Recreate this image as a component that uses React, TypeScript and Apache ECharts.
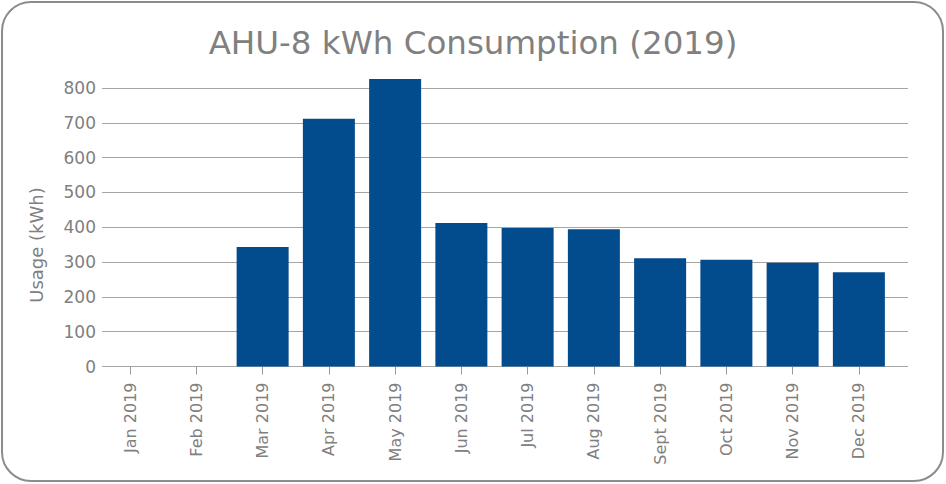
import React, { useEffect, useRef } from "react";
import * as echarts from "echarts";

const months = [
  "Jan 2019", "Feb 2019", "Mar 2019", "Apr 2019", "May 2019", "Jun 2019",
  "Jul 2019", "Aug 2019", "Sept 2019", "Oct 2019", "Nov 2019", "Dec 2019",
];
const usageKwh = [0, 0, 343, 712, 826, 412, 398, 394, 311, 307, 298, 271];
const yTicks = { min: 0, max: 800, interval: 100 };

const TEXT = "#808080";
const GRID_LINE = "#a6a6a6";
const BAR = "#024b8c";
const FONT = "'DejaVu Sans', sans-serif";

export default function App() {
  const ref = useRef<HTMLDivElement>(null);

  useEffect(() => {
    if (!ref.current) return;
    const chart = echarts.init(ref.current, undefined, { renderer: "svg" });
    chart.setOption({
      animation: false,
      title: {
        text: "AHU-8 kWh Consumption (2019)",
        left: "center",
        top: 21,
        textStyle: { color: TEXT, fontFamily: FONT, fontWeight: "normal", fontSize: 32.5 },
      },
      graphic: [
        {
          // y-axis title, sits a little below the plot's vertical centre
          type: "text",
          x: 36,
          y: 245,
          rotation: Math.PI / 2,
          style: {
            text: "Usage (kWh)",
            fill: TEXT,
            font: `18px ${FONT}`,
            align: "center",
            verticalAlign: "middle",
          },
        },
      ],
      grid: [
        // frame for the value axis and its grid lines
        { left: 102, right: 38, top: 88, bottom: 117.5 },
        // bars and month ticks
        { left: 97, width: 795, top: 88, bottom: 117.5 },
      ],
      xAxis: [
        { type: "value", gridIndex: 0, min: 0, max: 1, show: false },
        {
          type: "category",
          gridIndex: 1,
          data: months,
          axisLine: { show: false },
          axisTick: { show: true, alignWithLabel: true, length: 8, lineStyle: { color: "#999" } },
          axisLabel: { rotate: 90, margin: 16, color: TEXT, fontFamily: FONT, fontSize: 16 },
        },
      ],
      yAxis: [
        {
          type: "value",
          gridIndex: 0,
          min: yTicks.min,
          max: yTicks.max,
          interval: yTicks.interval,
          axisLine: { show: false },
          axisTick: { show: false },
          axisLabel: { color: TEXT, fontFamily: FONT, fontSize: 17, margin: 6 },
          splitLine: { show: true, lineStyle: { color: GRID_LINE, width: 1 } },
        },
        { type: "value", gridIndex: 1, min: yTicks.min, max: yTicks.max, show: false },
      ],
      series: [
        {
          type: "bar",
          xAxisIndex: 1,
          yAxisIndex: 1,
          data: usageKwh,
          barWidth: 52,
          clip: false,
          itemStyle: { color: BAR },
        },
      ],
    });
    return () => chart.dispose();
  }, []);

  return (
    <div
      style={{
        position: "absolute",
        left: 0,
        top: 0,
        width: 946,
        height: 484,
        background: "#fff",
      }}
    >
      <div
        style={{
          position: "absolute",
          left: 1,
          top: 1,
          width: 943,
          height: 481,
          boxSizing: "border-box",
          border: "2px solid #8c8c8c",
          borderRadius: 30,
        }}
      />
      <div ref={ref} style={{ position: "absolute", left: 0, top: 0, width: 946, height: 484 }} />
    </div>
  );
}
